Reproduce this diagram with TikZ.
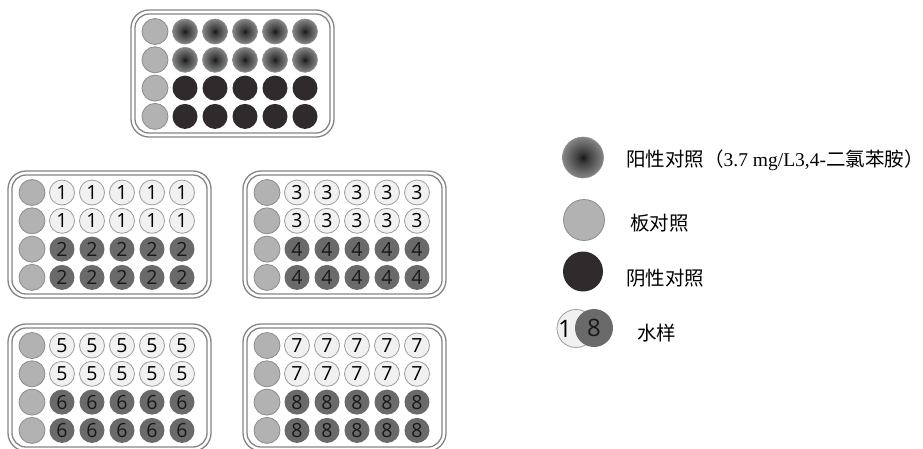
\documentclass[tikz,border=0pt]{standalone}
\usepackage{fontspec}
\setmainfont{Liberation Serif}
\newfontfamily\cjk{Noto Sans CJK SC}
\newfontfamily\digitfont{Open Sans}
\definecolor{plateline}{HTML}{858585}
\definecolor{pcfill}{HTML}{B2B2B2}
\definecolor{pcline}{HTML}{8C8C8C}
\definecolor{negfill}{HTML}{2F2B2C}
\definecolor{lightfill}{HTML}{F1F1F1}
\definecolor{lightline}{HTML}{9C9C9C}
\definecolor{darkfill}{HTML}{6A6A6A}
\definecolor{posA}{HTML}{161616}
\definecolor{posB}{HTML}{3A3A3A}
\definecolor{posC}{HTML}{A9A9A9}
\pgfdeclareradialshading{posshade}{\pgfpoint{0bp}{0bp}}{color(0bp)=(posA); color(6bp)=(posB); color(34bp)=(posC); color(50bp)=(posC)}
\tikzset{
  plateframe/.style={draw=plateline, line width=1.3pt},
  well/.style={circle, minimum size=25pt, inner sep=0pt, font=\digitfont\fontsize{19.5}{19.5}\selectfont},
  platectl/.style={well, minimum size=26pt, fill=pcfill, draw=pcline, line width=0.8pt},
  posctl/.style={well, shade, shading=posshade, draw=pcline, line width=0.6pt},
  negctl/.style={well, fill=negfill},
  lightwell/.style={well, fill=lightfill, draw=lightline, line width=0.8pt, text=black},
  darkwell/.style={well, fill=darkfill, text=black!90},
  legtext/.style={anchor=west, inner sep=0pt, font=\fontsize{19.5}{22}\selectfont}
}
\newcommand\drawplate[7]{%
  \draw[plateframe, rounded corners=18pt] (#2,#3) rectangle (#2+203,#3+127);
  \draw[plateframe, rounded corners=14pt] (#2+4,#3+4) rectangle (#2+199,#3+123);
  \foreach \r in {0,...,3}{\node[platectl] (#1-\r-0) at (#2+24,#3+21.5+28.3*\r) {};}
  \foreach \r in {0,1}{\foreach \c in {1,...,5}{\node[#4] (#1-\r-\c) at (#2+24+30*\c,#3+21.5+28.3*\r) {#5};}}
  \foreach \r in {2,3}{\foreach \c in {1,...,5}{\node[#6] (#1-\r-\c) at (#2+24+30*\c,#3+21.5+28.3*\r) {#7};}}
}
\begin{document}
\begin{tikzpicture}[x=1pt,y=-1pt]
\useasboundingbox (0,0) rectangle (923,448);
\fill[white] (0,0) rectangle (923,448);
\drawplate{top}{131}{10}{posctl}{}{negctl}{}
\drawplate{ml}{8}{171}{lightwell}{1}{darkwell}{2}
\drawplate{mr}{243}{171}{lightwell}{3}{darkwell}{4}
\drawplate{bl}{8}{324}{lightwell}{5}{darkwell}{6}
\drawplate{br}{243}{324}{lightwell}{7}{darkwell}{8}
% legend
\node[posctl, minimum size=41pt] (lg-pos) at (583,157.5) {};
\node[platectl, minimum size=41pt] (lg-plate) at (584,220) {};
\node[negctl, minimum size=40pt] (lg-neg) at (583,271.5) {};
\node[lightwell, minimum size=38pt] (lg-s1) at (576,328.5) {};
\node[font=\digitfont\fontsize{24}{24}\selectfont, inner sep=0pt] (lg-one) at (565,328.5) {1};
\node[darkwell, minimum size=38pt, font=\digitfont\fontsize{24}{24}\selectfont] (lg-s8) at (594,328) {8};
\node[legtext] (lt-pos) at (626,160) {{\cjk 阳性对照（}3.7 mg/L3,4-{\cjk 二氯苯胺）}};
\node[legtext] (lt-plate) at (630,223) {\cjk 板对照};
\node[legtext] (lt-neg) at (626,278) {\cjk 阴性对照};
\node[legtext] (lt-samp) at (637,333) {\cjk 水样};
\end{tikzpicture}
\end{document}
